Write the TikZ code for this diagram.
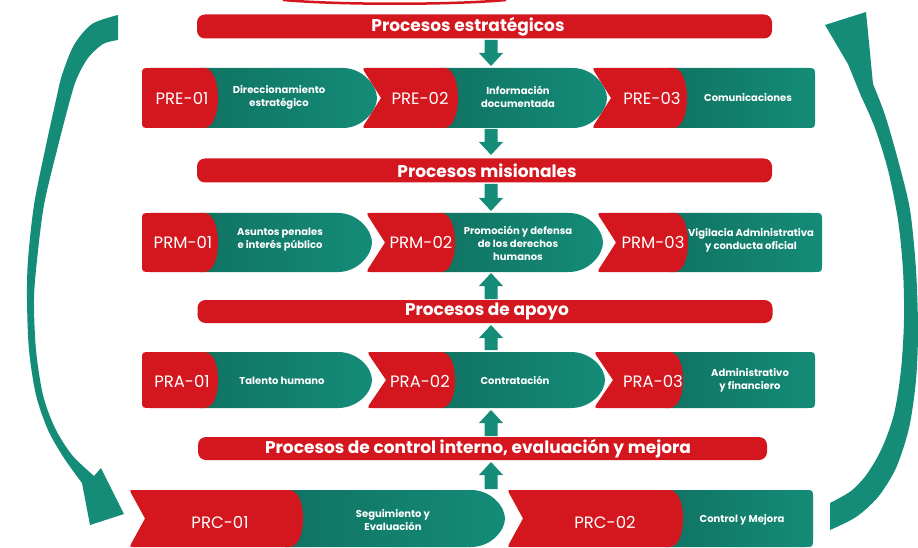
\documentclass[tikz,border=0pt]{standalone}
\usepackage{fontspec}
\setmainfont{Poppins}
\usetikzlibrary{calc}
\definecolor{redc}{RGB}{212,22,30}
\definecolor{tealc}{RGB}{20,140,120}
\tikzset{
  bar/.style={fill=redc, rounded corners=8pt, minimum width=575pt, minimum height=24pt, inner sep=0pt},
  bartext/.style={text=white, font=\bfseries\fontsize{17}{20}\selectfont, inner sep=0pt},
  code/.style={text=white, font=\fontsize{16.5}{19}\selectfont, inner sep=0pt},
  desc/.style={text=white, font=\bfseries\fontsize{10}{13}\selectfont, align=center, inner sep=0pt},
  redpart/.style={fill=redc},
  tealpart/.style={left color=tealc!82!black, right color=tealc},
}
% teal body ending in a point: xs xp yT yB
\newcommand\tealpoint[4]{%
  \path[tealpart] (#1,#3) -- ({#2-34},#3) .. controls ({#2-14},#3) and (#2,{(#3+#4)/2-12}) .. (#2,{(#3+#4)/2})
   .. controls (#2,{(#3+#4)/2+12}) and ({#2-14},#4) .. ({#2-34},#4) -- (#1,#4) -- cycle;}
% teal body ending square with rounded corners: xs xe yT yB
\newcommand\tealend[4]{%
  \path[tealpart] (#1,#3) -- ({#2-8},#3) .. controls (#2,#3) .. (#2,{#3+8}) -- (#2,{#4-8})
   .. controls (#2,#4) .. ({#2-8},#4) -- (#1,#4) -- cycle;}
% red head, first in row: xl xr yT yB
\newcommand\redfirst[4]{%
  \fill[redpart] (#1,{#3+8}) .. controls (#1,#3) .. ({#1+8},#3) -- ({#2-14},#3)
   .. controls ({#2-5},#3) and (#2,{(#3+#4)/2-16}) .. (#2,{(#3+#4)/2})
   .. controls (#2,{(#3+#4)/2+16}) and ({#2-5},#4) .. ({#2-14},#4) -- ({#1+8},#4)
   .. controls (#1,#4) .. (#1,{#4-8}) -- cycle;}
% red head with notch: xl depth xr yT yB
\newcommand\rednotch[5]{%
  \fill[redpart] ({#1+3},#4) -- ({#3-14},#4)
   .. controls ({#3-5},#4) and (#3,{(#4+#5)/2-16}) .. (#3,{(#4+#5)/2})
   .. controls (#3,{(#4+#5)/2+16}) and ({#3-5},#5) .. ({#3-14},#5) -- ({#1+3},#5)
   .. controls (#1,#5) .. ({#1+1},{#5-3}) -- ({#1+#2},{(#4+#5)/2}) -- ({#1+1},{#4+3})
   .. controls (#1,#4) .. ({#1+3},#4) -- cycle;}
% block arrows: base, tip
\newcommand\arrdown[2]{%
  \fill[tealc] let \p1=(#1), \p2=(#2) in (\x1-6.5pt,\y1) -- (\x1+6.5pt,\y1) -- (\x1+6.5pt,\y2+13pt)
   -- (\x1+12pt,\y2+13pt) -- (\x1,\y2) -- (\x1-12pt,\y2+13pt) -- (\x1-6.5pt,\y2+13pt) -- cycle;}
\newcommand\arrup[2]{%
  \fill[tealc] let \p1=(#1), \p2=(#2) in (\x1-6.5pt,\y1) -- (\x1+6.5pt,\y1) -- (\x1+6.5pt,\y2-13pt)
   -- (\x1+12pt,\y2-13pt) -- (\x1,\y2) -- (\x1-12pt,\y2-13pt) -- (\x1-6.5pt,\y2-13pt) -- cycle;}

\begin{document}
\begin{tikzpicture}[x=1pt,y=-1pt]
\useasboundingbox (0,0) rectangle (918,548);
\fill[white] (0,0) rectangle (918,548);

% thin red arc at the top edge
\draw[redc, line width=2.5pt] (283,0) .. controls (340,5) and (450,5) .. (506,0);

% big side arcs
\fill[tealc] plot[smooth] coordinates {(118,15) (92,24) (74,45) (62,75) (56,100) (45,150) (34,205) (28,260) (27,300) (29,350) (36,395) (48,430) (64,458) (82,483)}
  -- (90,525) -- (124,514) -- (101,468) --
  plot[smooth] coordinates {(94,476) (72,455) (55,428) (43,395) (36,350) (34,300) (37,260) (44,205) (57,150) (70,100) (77,78) (88,58) (103,44) (118,40)} -- cycle;
\fill[tealc] plot[smooth] coordinates {(830,530) (856,517) (878,497) (896,468) (909,428) (916,380) (918,330) (916,270) (910,210) (898,160) (885,115) (873,84)}
  -- (866,12) -- (825,25) -- (848,64) --
  plot[smooth] coordinates {(861,96) (875,128) (888,170) (898,220) (903,270) (904,320) (901,370) (894,414) (882,448) (867,474) (851,491) (830,503)} -- cycle;

% header bars
\node[bar] (b1) at (484.5,26.5) {};
\node[bartext] (t1) at (468,27) {Procesos estratégicos};
\node[bar] (b2) at (484.5,170.5) {};
\node[bartext] (t2) at (487,170.5) {Procesos misionales};
\node[bar, minimum height=23pt] (b3) at (485,311.5) {};
\node[bartext] (t3) at (487,311.5) {Procesos de apoyo};
\node[bar, minimum height=23pt, minimum width=569pt] (b4) at (482.5,448.5) {};
\node[bartext] (t4) at (478,448.5) {Procesos de control interno, evaluación y mejora};

% row 1
\tealpoint{200}{377}{68}{128}
\tealpoint{440}{607}{68}{128}
\tealend{670}{815}{68}{128}
\redfirst{142}{218}{68}{128}
\rednotch{363}{18}{458}{68}{128}
\rednotch{593}{18}{687}{68}{128}
% row 2
\tealpoint{200}{372}{213}{272}
\tealpoint{440}{603}{213}{272}
\tealend{670}{822}{213}{272}
\redfirst{142}{218}{213}{272}
\rednotch{367}{18}{455}{213}{272}
\rednotch{598}{18}{688}{213}{272}
% row 3
\tealpoint{200}{372}{352}{408}
\tealpoint{440}{605}{352}{408}
\tealend{665}{815}{352}{408}
\redfirst{142}{218}{352}{408}
\rednotch{368}{18}{455}{352}{408}
\rednotch{595}{18}{683}{352}{408}
% row 4
\tealpoint{285}{505}{490}{547}
\tealend{665}{813}{490}{547}
\rednotch{130}{15}{303}{490}{547}
\rednotch{508}{15}{683}{490}{547}

% labels
\node[code] (pre1) at (182,98) {PRE-01};
\node[desc] (d11) at (279,97) {Direccionamiento\\estratégico};
\node[code] (pre2) at (420,98) {PRE-02};
\node[desc] (d12) at (518,97) {Información\\documentada};
\node[code] (pre3) at (652,98) {PRE-03};
\node[desc] (d13) at (748,98) {Comunicaciones};

\node[code] (prm1) at (183,242) {PRM-01};
\node[desc] (d21) at (280,240) {Asuntos penales\\e interés público};
\node[code] (prm2) at (421,242) {PRM-02};
\node[desc] (d22) at (518,243) {Promoción y defensa\\de los derechos\\humanos};
\node[code] (prm3) at (653,242) {PRM-03};
\node[desc] (d23) at (751,240) {Vigilacia Administrativa\\y conducta oficial};

\node[code] (pra1) at (182,381) {PRA-01};
\node[desc] (d31) at (282,381) {Talento humano};
\node[code] (pra2) at (420,381) {PRA-02};
\node[desc] (d32) at (515,380) {Contratación};
\node[code] (pra3) at (653,381) {PRA-03};
\node[desc] (d33) at (750,380) {Administrativo\\y financiero};

\node[code] (prc1) at (220,522) {PRC-01};
\node[desc] (d41) at (393,520) {Seguimiento y\\Evaluación};
\node[code] (prc2) at (605,522) {PRC-02};
\node[desc] (d42) at (742,520) {Control y Mejora};

% connector arrows
\coordinate (a1s) at (491,40);  \coordinate (a1e) at (491,66);
\coordinate (a2s) at (491,129); \coordinate (a2e) at (491,155);
\coordinate (a3s) at (491,184); \coordinate (a3e) at (491,211);
\coordinate (a4s) at (491,299); \coordinate (a4e) at (491,273);
\coordinate (a5s) at (491,350); \coordinate (a5e) at (491,325);
\coordinate (a6s) at (491,436); \coordinate (a6e) at (491,410);
\coordinate (a7s) at (491,489); \coordinate (a7e) at (491,462);
\arrdown{a1s}{a1e}
\arrdown{a2s}{a2e}
\arrdown{a3s}{a3e}
\arrup{a4s}{a4e}
\arrup{a5s}{a5e}
\arrup{a6s}{a6e}
\arrup{a7s}{a7e}
\end{tikzpicture}
\end{document}
